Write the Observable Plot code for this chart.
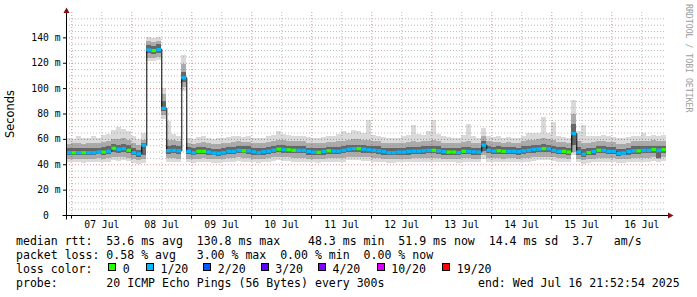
<!DOCTYPE html>
<html><head><meta charset="utf-8">
<script src="https://cdn.jsdelivr.net/npm/d3@7"></script>
<script src="https://cdn.jsdelivr.net/npm/@observablehq/plot@0.6"></script>
<style>
html,body{margin:0;padding:0;background:#fff}
#wrap{position:relative;width:697px;height:297px;overflow:hidden;background:#fff;font-family:"DejaVu Sans Mono",monospace;color:#000}
#chart{position:absolute;left:0;top:0}
.ln{position:absolute;left:16px;font-size:11.55px;line-height:14px;white-space:pre}
.box{position:absolute;width:6px;height:6px;border:1px solid #000;top:263px}
#ylab{position:absolute;left:11px;top:114px;transform:translate(-50%,-50%) rotate(-90deg);font-family:"DejaVu Sans",sans-serif;font-size:11.4px;line-height:1;white-space:nowrap}
#wm{position:absolute;left:684px;top:4px;writing-mode:vertical-rl;font-size:8.2px;line-height:9px;color:#9c9c9c;white-space:nowrap}
</style></head>
<body><div id="wrap"><div id="chart"></div><div id="legend"></div><div id="ylab">Seconds</div><div id="wm">RRDTOOL / TOBI OETIKER</div></div>
<script>
// ---- time frame ----
const tStart = new Date(Date.UTC(2025, 6, 6, 21, 52, 54));
const tEnd = new Date(Date.UTC(2025, 6, 16, 21, 52, 54));
const firstStep = Date.UTC(2025, 6, 6, 22, 0, 0);
const stepHours = 2;

// ---- median rtt (ms) per 2-hour step ----
const median = [
 49.5,49.5,49.5,49.5,49.5,49.5,50.0,50.0,50.6,53.0,
 52.2,52.7,51.4,49.5,48.6,55.5,130.5,130.0,130.8,84.5,
 51.2,51.4,51.0,108.5,50.6,49.5,50.6,50.6,50.0,49.2,
 49.0,49.5,50.6,50.6,51.4,51.0,51.0,50.2,49.5,50.3,
 50.7,51.5,52.3,52.0,51.8,51.4,51.4,51.4,50.5,50.0,
 49.8,50.5,51.0,50.7,50.7,51.4,52.3,52.7,52.7,52.3,
 51.8,51.4,51.0,50.4,49.6,49.5,50.0,50.0,50.5,50.7,
 50.7,51.0,51.4,51.4,51.0,50.4,50.0,50.0,49.6,50.6,
 50.6,50.2,50.0,55.5,51.4,50.8,51.0,50.6,50.6,50.6,
 50.3,50.9,51.4,52.2,52.4,52.7,52.7,51.4,50.6,50.6,
 50.0,64.5,50.0,48.3,49.6,50.5,51.4,51.4,50.6,50.6,
 49.0,49.2,50.4,51.0,51.0,51.4,51.4,52.0,51.4,51.9];

// ---- lost pings (of 20) per step ----
const loss = [
 1,0,1,0,1,1,1,0,1,0,
 1,1,0,1,1,1,1,0,1,1,
 1,1,1,1,1,1,0,0,1,1,
 1,1,1,1,1,0,1,1,1,1,
 1,1,0,1,0,0,1,1,1,1,
 0,1,0,1,1,1,1,1,0,1,
 1,1,1,1,1,1,1,1,1,1,
 1,1,1,0,1,1,0,0,1,0,
 1,1,1,1,1,1,0,0,1,1,
 1,1,1,1,1,0,1,1,1,0,
 0,1,1,1,0,1,0,1,1,1,
 1,1,1,1,0,1,1,0,1,0];

// ---- smoke: ping distribution per step (ms) ----
const sMin = [
 42,41.5,42,41,42,41.5,42,41.5,42,43,
 42.5,43,42.5,41,40.5,41,121,121.5,122,76,
 42,42,41.5,98,41.5,41,41.5,42,41.5,41,
 41,41.5,42,42,42.5,42,42,41.5,41,41.5,
 42,42.5,43,42.5,42.5,42,42,42,41.5,41.5,
 41,41.5,42,42,42,42,43,43,43,42.5,
 42.5,42,42,41.5,41,41,41.5,41.5,41.5,42,
 42,42,42,42,42,41.5,41.5,41.5,41,42,
 42,41.5,41.5,44,42,42,42,41.5,42,42,
 41.5,42,42,42.5,43,43,43,42.5,42,42,
 41.5,47,41.5,40.5,41,41.5,42,42,42,42,
 41,41,41.5,42,42,42,42,42.5,42,42.5];
const s10 = [
 44.5,44,44.5,44,44.5,44,45,44.5,45,46,
 45.5,46,45,44,43,44,124,124,124.5,79,
 45,45,44.5,101,44.5,44,44.5,45,44.5,44,
 44,44,45,45,45.5,45,45,44.5,44,44.5,
 45,45.5,46,45.5,45.5,45,45,45,44.5,44.5,
 44,44.5,45,45,45,45,46,46,46,45.5,
 45.5,45,45,44.5,44,44,44.5,44.5,44.5,45,
 45,45,45,45,45,44.5,44.5,44.5,44,45,
 45,44.5,44.5,47,45,45,45,44.5,45,45,
 44.5,45,45,45.5,46,46,46,45.5,45,45,
 44.5,50,44.5,43.5,44,44.5,45,45,45,45,
 44,44,44.5,45,45,45,45,45.5,44,45.5];
const s25 = [
 47.5,47,47.5,47,47.5,47,48,47.5,48,49.5,
 49,49.5,48.5,47,46,47.5,127.5,127,128,82,
 48,48.5,48,105,48,47,48,48,47.5,47,
 46.5,47,48,48,48.5,48.5,48,47.5,47,47.5,
 48,49,49.5,49,49,48.5,48.5,48.5,47.5,47.5,
 47,47.5,48,48,48,48.5,49.5,49.5,49.5,49,
 49,48.5,48,47.5,47,47,47.5,47.5,47.5,48,
 48,48,48.5,48.5,48,47.5,47.5,47.5,47,48,
 48,47.5,47.5,50.5,48.5,48,48,48,48,48,
 47.5,48,48.5,49,49.5,49.5,49.5,48.5,48,48,
 47.5,55,47.5,46,47,47.5,48.5,48.5,48,48,
 46.5,47,47.5,48,48,48.5,48.5,49,45,49];
const s75 = [
 52.5,52.5,53,52.5,53,52.5,53,53.5,54,56,
 55.5,56,55,53,51.5,56.5,134,133.5,134.5,90,
 54.5,55,54,113,53.5,52.5,53.5,53.5,53,52,
 52,52.5,53.5,53.5,54,54,54,53,52.5,53,
 53.5,54.5,55,55,54.5,54,54,54,53,53,
 52.5,53,53.5,53.5,53.5,54,55,55.5,55.5,55,
 54.5,54,54,53,52.5,52.5,53,53,53.5,53.5,
 53.5,54,54,54,54,53,53,53,52.5,53.5,
 53.5,53,53,58,54,53.5,54,53.5,53.5,53.5,
 53,54,54.5,55,55.5,56,55.5,54.5,53.5,53.5,
 53,72,53.5,52,52.5,53,54,54,53.5,53.5,
 52,52,53,54,54,54,54,54.5,54,54.5];
const s90 = [
 56,56.5,57,56,56.5,57,57,57.5,58,60,
 60,61,59,57,55,59,137,136.5,137.5,95,
 59,59,58,119,57,56,57,57.5,57,56,
 56,56.5,57,57.5,58,57.5,57.5,57,56.5,57,
 57.5,58,59,59,58.5,58,58,58,57,57,
 56.5,57,57.5,57.5,58,58.5,59.5,60,60,59.5,
 59,58,58,57,56.5,56.5,57,57,57.5,58,
 57.5,58,58.5,59,58,57,57,57,56.5,57.5,
 58,57,57,62,58,57.5,57.5,57,57.5,57,
 57,58,59,59.5,60,61,60,59,57.5,57.5,
 57,80,58,57,57,57.5,58,58,57.5,57.5,
 56,56,57,58,58,58.5,58,59,58,58.5];
const sMax = [
 61,60,62,60.5,61,62,61,63,63.5,67,
 69,68,66,62,60,64.5,140,139.5,140,100,
 74,64,62,126.5,61,60,61.5,62,61,60,
 60.5,61,61.5,62,62.5,61.5,62,61,60.5,61,
 62,63,66,64,63,62,62.5,62,61.5,61,
 61,61.5,62,62,64,66,65,67,66,65,
 75,63,62,61.5,61,60.5,61,62,63,71,
 64,63,66,75,64,62,61.5,61,61,63,
 72,62,61,68.5,62,61.5,62,61,61.5,61,
 61,62,64.5,64.5,65,77.5,65,73.5,62,61.5,
 61,91,66,71,62,62,62,63,62,61.5,
 60.5,60.5,61.5,62,62.5,64.5,62.5,63,62,63];

// ---- axes ----
const yTicks = [0, 20, 40, 60, 80, 100, 120, 140];
const yTickLabels = ["0\u00a0\u00a0", "20 m", "40 m", "60 m", "80 m", "100 m", "120 m", "140 m"];
const days = ["2025-07-07","2025-07-08","2025-07-09","2025-07-10","2025-07-11","2025-07-12","2025-07-13","2025-07-14","2025-07-15","2025-07-16"];
const dayLabels = ["07 Jul","08 Jul","09 Jul","10 Jul","11 Jul","12 Jul","13 Jul","14 Jul","15 Jul","16 Jul"];

// ---- legend ----
const lossLabels = ["0", "1/20", "2/20", "3/20", "4/20", "10/20", "19/20"];
const lossColors = ["#26ff00", "#00b8ff", "#0059ff", "#5e00ff", "#7e00ff", "#dd00ff", "#ff0000"];
const legendLines = [
  "median rtt:  53.6 ms avg  130.8 ms max    48.3 ms min  51.9 ms now  14.4 ms sd  3.7   am/s",
  "packet loss: 0.58 % avg   3.00 % max  0.00 % min  0.00 % now",
  "loss color:",
  "probe:       20 ICMP Echo Pings (56 Bytes) every 300s"
];
const endText = "end: Wed Jul 16 21:52:54 2025";

// ---- build ----
const stepMs = stepHours * 3600 * 1000;
const rows = median.map((m, i) => ({
  t1: new Date(firstStep + i * stepMs),
  t2: new Date(firstStep + (i + 1) * stepMs),
  m, loss: loss[i], lo: sMin[i], p10: s10[i], p25: s25[i], p75: s75[i], p90: s90[i], hi: sMax[i]
}));
const linePts = rows.map(r => ({t: r.t1, m: r.m})).concat([{t: rows[rows.length - 1].t2, m: rows[rows.length - 1].m}]);
const midnights = days.map(d => new Date(d + "T00:00:00Z"));
const noons = days.map(d => new Date(d + "T12:00:00Z"));
const yMinor = d3.range(5, 160, 5).filter(v => v % 20 !== 0);
const yLab = new Map(yTicks.map((v, i) => [v, yTickLabels[i]]));
const dLab = new Map(noons.map((d, i) => [+d, dayLabels[i]]));

const minorGrid = {stroke: "#8c8c8c", strokeOpacity: 0.6, strokeDasharray: "1,2"};
const majorGrid = {stroke: "#c02020", strokeOpacity: 0.5, strokeDasharray: "1,2"};

const plot = Plot.plot({
  width: 697, height: 232,
  marginLeft: 66, marginRight: 31, marginTop: 12, marginBottom: 17,
  x: {type: "utc", domain: [tStart, tEnd]},
  y: {domain: [0, 160]},
  style: {fontFamily: "'DejaVu Sans Mono', monospace", fontSize: "9.7px", background: "#fff", color: "#000", overflow: "visible"},
  marks: [
    Plot.rect(rows, {x1: "t1", x2: "t2", y1: "lo", y2: "hi", fill: "#dadada", shapeRendering: "crispEdges", clip: true}),
    Plot.rect(rows, {x1: "t1", x2: "t2", y1: "p10", y2: "p90", fill: "#ababab", shapeRendering: "crispEdges", clip: true}),
    Plot.rect(rows, {x1: "t1", x2: "t2", y1: "p25", y2: "p75", fill: "#666666", shapeRendering: "crispEdges", clip: true}),
    Plot.ruleY(yMinor, minorGrid),
    Plot.ruleX(noons, minorGrid),
    Plot.ruleY(yTicks.filter(v => v > 0), majorGrid),
    Plot.ruleX(midnights, majorGrid),
    Plot.line(linePts, {x: "t", y: "m", curve: "step-after", stroke: "#000", strokeWidth: 1, clip: true}),
    Plot.ruleY(rows, {y: "m", x1: "t1", x2: "t2", stroke: d => lossColors[d.loss], strokeWidth: 3.2, clip: true}),
    Plot.axisY({ticks: yTicks, tickFormat: d => yLab.get(d), tickSize: 3, tickPadding: 3, label: null}),
    Plot.axisX({ticks: noons, tickFormat: d => dLab.get(+d), tickSize: 0, tickPadding: 6, label: null})
  ]
});
document.getElementById("chart").appendChild(plot);

// axis lines and arrows drawn with the plot's own scales
const xs = plot.scale("x"), ys = plot.scale("y");
const X0 = Math.round(xs.apply(tStart)) + 0.5, X1 = xs.apply(tEnd);
const Y0 = Math.round(ys.apply(0)) + 0.5, Y1 = ys.apply(160);
const g = d3.select(plot).append("g");
g.append("line").attr("x1", X0).attr("x2", X0).attr("y1", Y0 + 4).attr("y2", Y1 - 1).attr("stroke", "#000");
g.append("line").attr("x1", X0 - 4).attr("x2", X1 + 3).attr("y1", Y0).attr("y2", Y0).attr("stroke", "#000");
g.selectAll(".mt").data(midnights).join("line")
  .attr("x1", d => Math.round(xs.apply(d)) + 0.5).attr("x2", d => Math.round(xs.apply(d)) + 0.5)
  .attr("y1", Y0).attr("y2", Y0 + 3).attr("stroke", "#000");
g.append("polygon").attr("points", `${X0 - 3},${Y1 + 1} ${X0 + 3},${Y1 + 1} ${X0},${Y1 - 4.5}`).attr("fill", "#801010");
g.append("polygon").attr("points", `${X1 + 2},${Y0 - 3} ${X1 + 2},${Y0 + 3} ${X1 + 7.5},${Y0}`).attr("fill", "#801010");

// text legend below the chart
const leg = document.getElementById("legend");
const tops = [234, 248, 262, 276];
legendLines.forEach((t, i) => {
  const d = document.createElement("div");
  d.className = "ln"; d.style.top = tops[i] + "px"; d.textContent = t;
  leg.appendChild(d);
});
const endDiv = document.createElement("div");
endDiv.className = "ln"; endDiv.style.left = "478px"; endDiv.style.top = tops[3] + "px"; endDiv.textContent = endText;
leg.appendChild(endDiv);
const boxX = [108.3, 146, 203.3, 260.7, 318, 376.7, 442.3];
lossLabels.forEach((lab, i) => {
  const b = document.createElement("div");
  b.className = "box"; b.style.left = boxX[i] + "px"; b.style.background = lossColors[i];
  leg.appendChild(b);
  const t = document.createElement("div");
  t.className = "ln"; t.style.left = (boxX[i] + 14.5) + "px"; t.style.top = tops[2] + "px"; t.textContent = lab;
  leg.appendChild(t);
});
</script>
</body></html>
